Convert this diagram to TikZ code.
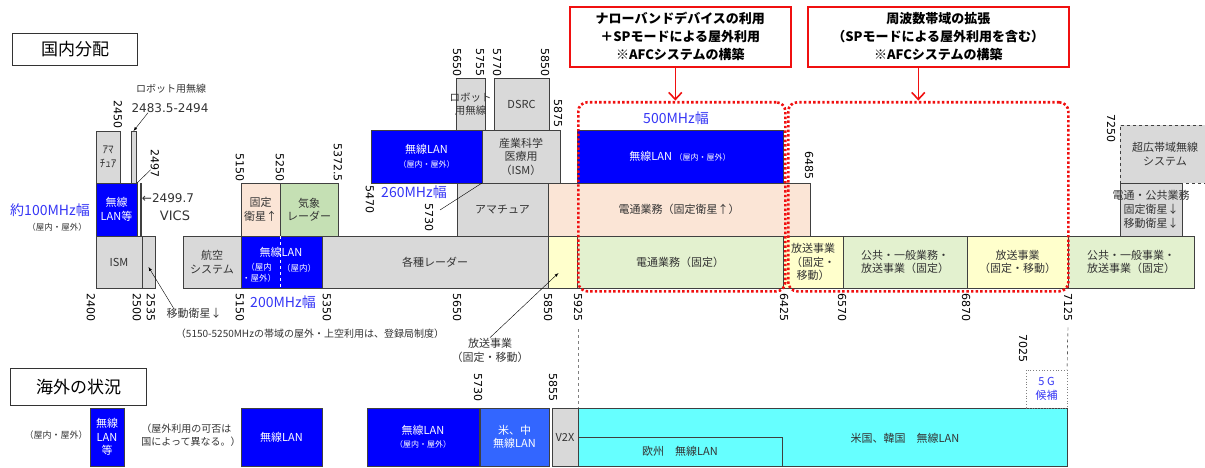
\documentclass[tikz,border=0pt]{standalone}
\usepackage{fontspec}
\setmainfont{Noto Sans CJK JP}
\newfontfamily\freqfont{DejaVu Sans}
\usetikzlibrary{arrows.meta}
\definecolor{bandline}{HTML}{404040}
\definecolor{bandgrey}{HTML}{D9D9D9}
\definecolor{lanblue}{HTML}{0000FF}
\definecolor{midblue}{HTML}{3366FF}
\definecolor{peach}{HTML}{FBE5D6}
\definecolor{leaf}{HTML}{C5E0B4}
\definecolor{paleleaf}{HTML}{E3F1CF}
\definecolor{paleyellow}{HTML}{FFFFCC}
\definecolor{cyanband}{HTML}{66FFFF}
\definecolor{mhzblue}{HTML}{3535F5}
\definecolor{alertred}{HTML}{F01010}
\begin{document}
\begin{tikzpicture}[
    x=1pt, y=-1pt,
    >=latex,
    wh/.style 2 args={minimum width=#1pt, minimum height=#2pt},
    band/.style={draw=bandline, line width=0.8pt, anchor=north west, inner sep=1pt, outer sep=0pt,
        align=center, text=black!80, font=\fontsize{11}{13.5}\selectfont},
    greyband/.style={band, fill=bandgrey},
    lanband/.style={band, fill=lanblue, text=white},
    peachband/.style={band, fill=peach},
    leafband/.style={band, fill=leaf},
    paleband/.style={band, fill=paleleaf},
    yellowband/.style={band, fill=paleyellow},
    cyband/.style={band, fill=cyanband},
    freq/.style={font=\freqfont\fontsize{11}{13}\selectfont, rotate=-90, inner sep=0pt},
    freqtop/.style={freq, anchor=east},
    freqbot/.style={freq, anchor=west},
    mhz/.style={text=mhzblue, font=\fontsize{14}{16}\selectfont, inner sep=0pt},
    note/.style={align=center, inner sep=0pt, text=black!80, font=\fontsize{11}{14}\selectfont},
    small/.style={font=\fontsize{8.5}{11}\selectfont},
    title/.style={draw=black!80, line width=1pt, anchor=north west, font=\fontsize{17}{20}\selectfont},
    alertbox/.style={draw=alertred, line width=1.6pt, fill=white, anchor=north west, align=center,
        font=\bfseries\fontsize{13}{18}\selectfont},
    afcframe/.style={draw=alertred, line width=2.6pt, dash pattern=on 2.4pt off 2.2pt,
        rounded corners=9pt, anchor=north west, inner sep=0pt},
    alertarrow/.style={draw=alertred, line width=1.6pt, -{Straight Barb[length=7pt,width=13pt]}}
]
\useasboundingbox (0,0) rectangle (1205,468);

% Titles
\node[title, wh={125}{32}] (dom) at (12,33) {国内分配};
\node[title, wh={136}{37}] (ovs) at (10,368) {海外の状況};

% 2.4GHz blocks
\node[greyband, wh={46}{52}] (ism) at (96,236) {ISM};
\node[greyband, wh={13}{52}] (mss) at (142,236) {};
\node[lanband, wh={41}{53}] (lan24) at (96,183) {無線\\LAN等};
\node[greyband, wh={24}{52}, inner sep=0pt, font=\fontsize{11}{14}\selectfont] (ham24) at (96,131) {ｱﾏ\\ﾁｭｱ};
\node[greyband, wh={5}{52}, inner sep=0pt] (rob24) at (131,131) {};
\node[band, wh={1}{53}, inner sep=0pt, line width=0.4pt, fill=bandline] (vics) at (140.5,183) {};

\node[freqtop] (f2450) at (118,129) {2450};
\node[freqtop] (f2497) at (155,178) {2497};
\node[freqbot] (f2400) at (91,293) {2400};
\node[freqbot] (f2500) at (137,293) {2500};
\node[freqbot] (f2535) at (151,293) {2535};
\node[note, font=\fontsize{10}{12}\selectfont] (robtxt) at (171,89) {ロボット用無線};
\node[note, font=\freqfont\fontsize{12}{14}\selectfont] (robnum) at (170,108) {2483.5-2494};
\node[note, font=\freqfont\fontsize{12}{14}\selectfont] (vicsnum) at (168,198) {←2499.7};
\node[note, font=\freqfont\fontsize{13}{15}\selectfont] (vicstxt) at (175,216) {VICS};
\node[mhz] (w100) at (50,210) {約100MHz幅};
\node[note, small] (io24) at (57,227) {（屋内・屋外）};
\node[note] (mobsat) at (194,313) {移動衛星↓};

% 5GHz blocks
\node[greyband, wh={58}{52}] (aero) at (183,236) {航空\\システム};
\node[lanband, wh={81}{52}] (lan52) at (241,236) {};
\node[greyband, wh={226}{52}] (radar) at (322,236) {各種レーダー};
\node[peachband, wh={39}{53}] (fss52) at (241,183) {固定\\衛星↑};
\node[leafband, wh={58}{53}] (wx) at (280,183) {気象\\レーダー};
\node[lanband, wh={111}{53}] (lanU) at (371,130) {無線LAN\\{\fontsize{8}{10}\selectfont（屋内・屋外）}};
\node[greyband, wh={78}{53}] (ismU) at (482,130) {産業科学\\医療用\\（ISM）};
\node[greyband, wh={29}{52}, label={[align=center, text=black!80, font=\fontsize{10.5}{13}\selectfont]center:{ロボット\\用無線}}] (rob57) at (456,78) {};
\node[greyband, wh={55}{52}] (dsrc) at (494,78) {DSRC};
\node[greyband, wh={91}{53}] (ham57) at (457,183) {アマチュア};

\draw[white, dashed, line width=0.8pt] ([xshift=-1.5pt]lan52.north) -- ([xshift=-1.5pt]lan52.south);
\node[note, text=white] (lan52a) at (281,252) {無線LAN};
\node[note, text=white, small] (lan52b) at (259,273) {（屋内\\・屋外）};
\node[note, text=white, small] (lan52c) at (299,268) {（屋内）};

\node[freqtop] (f5150t) at (240,182) {5150};
\node[freqtop] (f5250t) at (280,182) {5250};
\node[freqtop] (f5372) at (338,182) {5372.5};
\node[freqbot] (f5150b) at (240,293) {5150};
\node[freqbot] (f5350b) at (327,293) {5350};
\node[freqbot] (f5650b) at (457,293) {5650};
\node[freqbot] (f5470) at (370,185) {5470};
\node[freqbot] (f5730) at (429,203) {5730};
\node[freqtop] (f5650t) at (457,77) {5650};
\node[freqtop] (f5755) at (480,77) {5755};
\node[freqtop] (f5770) at (497,77) {5770};
\node[freqtop] (f5850t) at (545,77) {5850};
\node[freqtop] (f5875) at (558,128) {5875};
\node[mhz] (w200) at (283,302) {200MHz幅};
\node[mhz] (w260) at (414,192) {260MHz幅};
\node[note, font=\fontsize{10}{12}\selectfont] (reg) at (310,334) {（5150-5250MHzの帯域の屋外・上空利用は、登録局制度）};
\node[note] (bcast) at (490,350) {放送事業\\（固定・移動）};
\coordinate (l5730) at (440,210);

% 6GHz blocks
\node[peachband, wh={262}{53}] (fss) at (548,183) {電通業務（固定衛星↑）};
\node[lanband, wh={206}{53}] (lan6) at (577,130) {無線LAN {\fontsize{8}{10}\selectfont（屋内・屋外）}};
\node[yellowband, wh={29}{52}] (bc58) at (548,236) {};
\node[paleband, wh={206}{52}] (fs6) at (577,236) {電通業務（固定）};
\node[yellowband, wh={60}{52}] (bc64) at (783,236) {放送事業\\（固定・\\移動）};
\node[paleband, wh={124}{52}] (pub65) at (843,236) {公共・一般業務・\\放送事業（固定）};
\node[yellowband, wh={101}{52}] (bc68) at (967,236) {放送事業\\（固定・移動）};
\node[paleband, wh={126}{52}] (pub71) at (1068,236) {公共・一般事業・\\放送事業（固定）};
\node[greyband, wh={62}{53}, label={[align=center, text=black!80, font=\fontsize{11}{14}\selectfont]center:{電通・公共業務\\固定衛星↓\\移動衛星↓}}] (sat72) at (1120,183) {};
\node[greyband, dashed, wh={90}{58}] (uwb) at (1120,125) {超広帯域無線\\システム};

\node[freqbot] (f5850b) at (548,293) {5850};
\node[freqbot] (f5925) at (578,293) {5925};
\node[freqtop] (f6485) at (809,180) {6485};
\node[freqbot] (f6425) at (784,293) {6425};
\node[freqbot] (f6570) at (842,293) {6570};
\node[freqbot] (f6870) at (966,293) {6870};
\node[freqbot] (f7125) at (1068,293) {7125};
\node[freqtop] (f7250) at (1111,143) {7250};
\node[mhz] (w500) at (676,118) {500MHz幅};

% AFC frames and proposals
\node[afcframe, wh={207}{189}] (afc1) at (577,101) {};
\node[afcframe, wh={280}{189}] (afc2) at (787,101) {};
\node[alertbox, wh={221}{60}] (nb) at (569,6) {ナローバンドデバイスの利用\\＋SPモードによる屋外利用\\※AFCシステムの構築};
\node[alertbox, wh={261}{60}] (ext) at (807,6) {周波数帯域の拡張\\（SPモードによる屋外利用を含む）\\※AFCシステムの構築};

% Overseas blocks
\node[lanband, wh={34}{58}] (lanO1) at (90,408) {無線\\LAN\\等};
\node[note, font=\fontsize{9}{11}\selectfont] (ioO) at (56,435) {（屋内・屋外）};
\node[note, align=left, font=\fontsize{10}{13}\selectfont] (cty) at (191,435) {（屋外利用の可否は\\国によって異なる。）};
\node[lanband, wh={81}{58}] (lanO2) at (241,408) {無線LAN};
\node[lanband, wh={112}{58}] (lanO3) at (367,408) {無線LAN\\{\fontsize{8}{10}\selectfont（屋内・屋外）}};
\node[band, fill=midblue, text=white, wh={69}{58}] (lanO4) at (480,408) {米、中\\無線LAN};
\node[greyband, wh={26}{58}, inner sep=0pt] (v2x) at (552,408) {V2X};
\node[cyband, wh={489}{58}] (usk) at (578,408) {};
\node[note] (usktxt) at (905,438) {米国、韓国\quad 無線LAN};
\node[cyband, wh={204}{29}] (eu) at (578,437) {欧州\quad 無線LAN};
\node[band, dotted, draw=gray, fill=white, wh={41}{38}, text=mhzblue] (g5) at (1026,370) {5 G\\候補};
\node[freqtop] (f7025) at (1023,363) {7025};
\node[freqtop] (f5730o) at (478,402) {5730};
\node[freqtop] (f5855) at (553,402) {5855};

% Connections
\draw[->] ([xshift=-22pt]robnum.south) -- (rob24.north);
\draw (lan24.north east) -- ([yshift=-6pt]f2497.south);
\draw[->] ([xshift=7pt]mobsat.north west) -- ([yshift=-5pt]mss.center);
\draw (l5730) -- (lanU.south east);
\draw[->] (bcast.north) -- ([xshift=-4pt,yshift=-11pt]bc58.center);
\draw[alertarrow] ([xshift=-5pt]nb.south) -- ++(0,33);
\draw[alertarrow] ([xshift=-20pt]ext.south) -- ++(0,33);
\draw[dashed, gray] ([yshift=-8pt]f5925.east) -- (usk.north west);
\draw[dashed] ([yshift=-6pt]f7125.east) -- (g5.north east);
\end{tikzpicture}
\end{document}
